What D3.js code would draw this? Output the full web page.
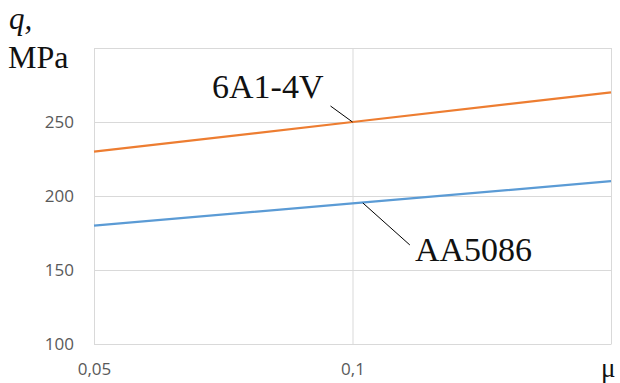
<!DOCTYPE html>
<html>
<head>
<meta charset="utf-8">
<script src="https://cdn.jsdelivr.net/npm/d3@7"></script>
<style>
  body { margin: 0; background: #fff; }
  svg { display: block; }
</style>
</head>
<body>
<div id="chart"></div>
<script>
// data
var muValues = [0.05, 0.1, 0.15];
var q6Al4V = [230, 250, 270];
var qAA5086 = [180, 195, 210];
var yTicks = [100, 150, 200, 250, 300];
var yTickLabels = ["100", "150", "200", "250", ""];
var xTicks = [0.05, 0.1, 0.15];
var xTickLabels = ["0,05", "0,1", ""];
var seriesNames = ["6A1-4V", "AA5086"];
var seriesColors = ["#ed7d31", "#5b9bd5"];

var W = 620, H = 383;
var margin = { top: 48, right: 9, bottom: 39, left: 94 },
    width = W - margin.left - margin.right,
    height = H - margin.top - margin.bottom;

var x = d3.scaleLinear().domain([0.05, 0.15]).range([0, width]),
    y = d3.scaleLinear().domain([100, 300]).range([height, 0]);

var svg = d3.select("#chart").append("svg")
    .attr("width", W)
    .attr("height", H);

var g = svg.append("g")
    .attr("transform", "translate(" + margin.left + "," + margin.top + ")");

// horizontal gridlines
g.append("g")
    .attr("class", "grid")
    .call(d3.axisLeft(y).tickValues(yTicks).tickSize(-width).tickFormat(""))
    .call(function (s) {
        s.select(".domain").remove();
        s.selectAll("line").attr("stroke", "#d9d9d9");
    });

// vertical gridlines
g.append("g")
    .attr("class", "grid")
    .attr("transform", "translate(0," + height + ")")
    .call(d3.axisBottom(x).tickValues(xTicks).tickSize(-height).tickFormat(""))
    .call(function (s) {
        s.select(".domain").remove();
        s.selectAll("line").attr("stroke", "#d9d9d9");
    });

// y tick labels
g.append("g")
    .call(d3.axisLeft(y).tickValues(yTicks).tickSize(0).tickPadding(20)
        .tickFormat(function (d, i) { return yTickLabels[i]; }))
    .call(function (s) {
        s.select(".domain").attr("stroke", "#d9d9d9");
        s.selectAll("text")
            .attr("fill", "#595959")
            .style("font-family", "'Open Sans', sans-serif")
            .style("font-size", "17px");
    });

// x tick labels
g.append("g")
    .attr("transform", "translate(0," + height + ")")
    .call(d3.axisBottom(x).tickValues(xTicks).tickSize(0).tickPadding(19)
        .tickFormat(function (d, i) { return xTickLabels[i]; }))
    .call(function (s) {
        s.select(".domain").attr("stroke", "#d9d9d9");
        s.selectAll("text")
            .attr("fill", "#595959")
            .style("font-family", "'Open Sans', sans-serif")
            .style("font-size", "17px");
    });

// lines
var line = d3.line()
    .x(function (d, i) { return x(muValues[i]); })
    .y(function (d) { return y(d); });

[q6Al4V, qAA5086].forEach(function (vals, k) {
    g.append("path")
        .datum(vals)
        .attr("d", line)
        .style("fill", "none")
        .style("stroke", seriesColors[k])
        .style("stroke-width", "2.2px");
});

// callouts with leader lines
var callouts = [
    { name: seriesNames[0], mu: 0.1, q: 250, dx: -22, dy: -16, tx: 118, ty: 50 },
    { name: seriesNames[1], mu: 0.102, q: 195.3, dx: 47, dy: 42, tx: 321, ty: 213 }
];
callouts.forEach(function (c) {
    var px = x(c.mu), py = y(c.q);
    g.append("line")
        .attr("x1", px).attr("y1", py)
        .attr("x2", px + c.dx).attr("y2", py + c.dy)
        .attr("stroke", "#000")
        .attr("stroke-width", 1);
    g.append("text")
        .attr("x", c.tx).attr("y", c.ty)
        .style("font-family", "'Liberation Serif', 'Times New Roman', serif")
        .style("font-size", "34px")
        .attr("fill", "#111")
        .text(c.name);
});

// axis titles
svg.append("text")
    .attr("x", 9).attr("y", 29)
    .style("font-family", "'Liberation Serif', serif")
    .style("font-style", "italic")
    .style("font-size", "31px")
    .attr("fill", "#111")
    .text("q,");
svg.append("text")
    .attr("x", 8).attr("y", 68)
    .style("font-family", "'Liberation Serif', serif")
    .style("font-size", "32px")
    .attr("fill", "#111")
    .text("MPa");
svg.append("text")
    .attr("x", 601).attr("y", 377)
    .style("font-family", "'Liberation Serif', serif")
    .style("font-size", "27px")
    .attr("fill", "#111")
    .text("μ");
</script>
</body>
</html>
